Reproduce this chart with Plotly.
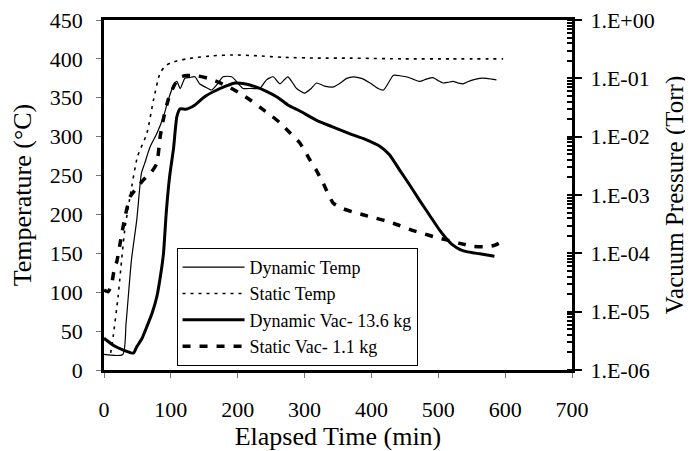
import plotly.graph_objects as go

# elapsed time (min) / temperature (°C)
dyn_temp_t = [0, 28, 33, 41, 49, 56, 61, 69, 79, 89, 96, 104, 109, 114, 121, 128, 136, 143, 151, 161,
              170, 178, 191, 203, 208, 221, 233, 243, 253, 263, 275, 288, 300, 310, 318, 330, 343, 355,
              363, 373, 385, 398, 410, 418, 426, 433, 445, 452, 462, 472, 482, 492, 500, 507, 515, 522,
              530, 537, 545, 552, 562, 572, 580, 587]
dyn_temp = [20, 20, 60, 141, 193, 253, 266, 287, 304, 326, 347, 366, 371, 362, 375, 376, 377, 368, 364, 360,
            368, 377, 377, 366, 362, 362, 362, 373, 377, 368, 377, 362, 356, 362, 369, 365, 364, 370,
            375, 377, 375, 369, 362, 360, 370, 379, 378, 377, 374, 371, 374, 376, 372, 369, 370, 371,
            369, 368, 371, 373, 375, 375, 374, 373]

stat_temp_t = [10, 14, 21, 31, 39, 50, 64, 74, 84, 92, 100, 112, 124, 140, 163, 193, 230, 268, 320, 368,
               450, 520, 597]
stat_temp = [22, 45, 94, 180, 223, 274, 304, 347, 382, 391, 395, 398, 400, 402, 404, 405, 404, 402, 401, 401,
             400, 400, 400]

# elapsed time (min) / vacuum pressure (Torr)
dyn_vac_t = [0, 15, 29, 44, 49, 57, 64, 72, 79, 85, 89, 93, 98, 104, 109, 114, 122, 128, 136, 150, 165,
             183, 196, 210, 226, 243, 260, 275, 293, 318, 340, 368, 390, 413, 427, 442, 457, 472, 487,
             502, 512, 522, 532, 542, 562, 584]
dyn_vac = [3.5e-6, 2.6e-6, 2.2e-6, 1.95e-6, 2.5e-6, 3.5e-6, 5.5e-6, 9.5e-6, 1.8e-5, 4.5e-5, 1.0e-4,
           4.8e-4, 2.0e-3, 6.3e-3, 2.2e-2, 3.0e-2, 2.95e-2, 3.1e-2, 3.5e-2, 4.8e-2, 6.0e-2, 7.4e-2,
           8.3e-2, 8.1e-2, 7.2e-2, 6.0e-2, 4.7e-2, 3.5e-2, 2.75e-2, 1.9e-2, 1.5e-2, 1.12e-2, 9.1e-3,
           6.8e-3, 4.9e-3, 2.7e-3, 1.5e-3, 8.1e-4, 4.5e-4, 2.5e-4, 1.8e-4, 1.38e-4, 1.17e-4, 1.07e-4,
           9.8e-5, 8.9e-5]

stat_vac_t = [0, 6, 11, 16, 19, 25, 31, 39, 49, 59, 70, 79, 84, 89, 96, 105, 114, 124, 140, 156, 170,
              186, 203, 218, 233, 248, 263, 278, 293, 308, 318, 328, 343, 358, 373, 390, 407, 425, 442,
              460, 477, 495, 512, 532, 552, 572, 585, 597]
stat_vac = [2.34e-5, 2.19e-5, 2.82e-5, 5.89e-5, 7.08e-5, 1.70e-4, 3.98e-4, 9.33e-4, 1.32e-3, 1.82e-3,
            2.40e-3, 3.47e-3, 1.0e-2, 2.04e-2, 4.27e-2, 7.59e-2, 0.105, 0.112, 0.110, 0.100, 0.087,
            0.072, 0.056, 0.043, 0.032, 0.024, 0.0174, 0.0117, 0.0078, 0.0040, 0.0026, 0.00158,
            7.2e-4, 5.8e-4, 5.1e-4, 4.5e-4, 4.0e-4, 3.5e-4, 3.0e-4, 2.5e-4, 2.2e-4, 1.9e-4, 1.7e-4,
            1.48e-4, 1.32e-4, 1.29e-4, 1.38e-4, 1.62e-4]

x_ticks = [0, 100, 200, 300, 400, 500, 600, 700]
vac_ticks = [1e-6, 1e-5, 1e-4, 1e-3, 1e-2, 1e-1, 1]
vac_labels = ["1.E-06", "1.E-05", "1.E-04", "1.E-03", "1.E-02", "1.E-01", "1.E+00"]

font = "'Liberation Serif', 'Times New Roman', Times, serif"

fig = go.Figure()
fig.add_trace(go.Scatter(x=dyn_temp_t, y=dyn_temp, mode="lines", name="Dynamic Temp",
                         line=dict(color="black", width=1.2, shape="spline", smoothing=0.6)))
fig.add_trace(go.Scatter(x=stat_temp_t, y=stat_temp, mode="lines", name="Static Temp",
                         line=dict(color="black", width=1.6, dash="3px,5px", shape="spline", smoothing=0.6)))
fig.add_trace(go.Scatter(x=dyn_vac_t, y=dyn_vac, mode="lines", name="Dynamic Vac- 13.6 kg", yaxis="y2",
                         line=dict(color="black", width=3, shape="spline", smoothing=0.5)))
fig.add_trace(go.Scatter(x=stat_vac_t, y=stat_vac, mode="lines", name="Static Vac- 1.1 kg", yaxis="y2",
                         line=dict(color="black", width=3.5, dash="8px,9px", shape="spline", smoothing=0.5)))

# the page body adds an 8px offset, so the figure is 8px smaller than the window
fig.update_layout(
    width=685, height=443,
    margin=dict(l=96, r=121, t=12, b=81),
    plot_bgcolor="white", paper_bgcolor="white",
    font=dict(family=font, color="black", size=22),
    xaxis=dict(range=[0, 700], tickvals=x_ticks, showline=True, linecolor="black", linewidth=2.5,
               mirror=True, ticks="outside", ticklen=5, tickcolor="#777", showgrid=False, zeroline=False,
               ticklabelstandoff=13, automargin=False, ticklabeloverflow="allow",
               title=dict(text="Elapsed Time (min)", font=dict(size=26), standoff=10)),
    yaxis=dict(range=[0, 450], dtick=50, showline=True, linecolor="black", linewidth=2.5,
               ticks="outside", ticklen=5, tickcolor="#777", showgrid=False, zeroline=False,
               ticklabelstandoff=9, automargin=False, ticklabeloverflow="allow",
               title=dict(text="Temperature (°C)", font=dict(size=26), standoff=14)),
    yaxis2=dict(type="log", range=[-6, 0], overlaying="y", side="right", tickvals=vac_ticks,
                ticktext=vac_labels, showline=True, linecolor="black", linewidth=3,
                ticks="outside", ticklen=7, tickwidth=2, tickcolor="black", showgrid=False,
                ticklabelstandoff=4, automargin=False, ticklabeloverflow="allow",
                minor=dict(ticks="inside", ticklen=5, tickwidth=1.5, tickcolor="black", dtick="D1",
                           showgrid=False),
                title=dict(text="Vacuum Pressure (Torr)", font=dict(size=25), standoff=12)),
    legend=dict(x=0.155, y=0.349, xanchor="left", yanchor="top", bordercolor="black", borderwidth=1,
                bgcolor="white", font=dict(size=18), tracegroupgap=0, itemwidth=62),
    showlegend=True,
)

fig.write_html("out.html")
